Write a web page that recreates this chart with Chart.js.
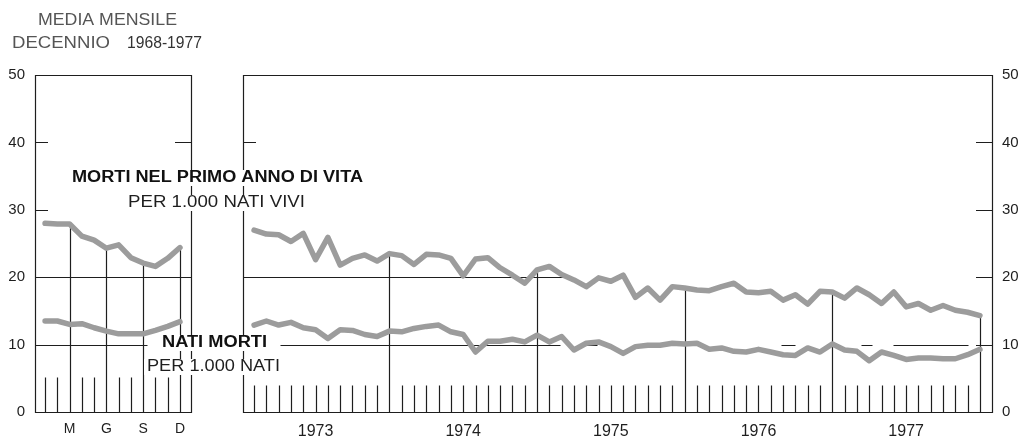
<!DOCTYPE html>
<html lang="it">
<head>
<meta charset="utf-8">
<title>Morti nel primo anno di vita e nati morti</title>
<script src="https://cdn.jsdelivr.net/npm/chart.js@4.4.1/dist/chart.umd.min.js"></script>
<style>
  html, body { margin: 0; padding: 0; background: #fff; }
  #wrap { position: relative; width: 1029px; height: 440px; }
  #wrap canvas { position: absolute; left: 0; top: 0; }
</style>
</head>
<body>
<div id="wrap">
  <canvas id="mediaChart" width="1029" height="440"></canvas>
  <canvas id="serieChart" width="1029" height="440"></canvas>
</div>
<script>
// --- media mensile decennio 1968-1977 (gen..dic) ---
const mesiMedia = ['G', 'F', 'M', 'A', 'M', 'G', 'L', 'A', 'S', 'O', 'N', 'D'];
const mortiPrimoAnnoMedia = [28.0, 27.9, 27.9, 26.1, 25.5, 24.3, 24.8, 22.9, 22.1, 21.6, 22.8, 24.4];
const natiMortiMedia = [13.5, 13.5, 13.0, 13.1, 12.5, 12.0, 11.6, 11.6, 11.6, 12.1, 12.7, 13.4];
const mesiEtichettati = [2, 5, 8, 11];          // M G S D

// --- serie mensile gen 1973 .. dic 1977 ---
const anni = ['1973', '1974', '1975', '1976', '1977'];
const mortiPrimoAnno = [
  27.0, 26.4, 26.3, 25.3, 26.5, 22.6, 25.9, 21.8, 22.8, 23.3, 22.4, 23.5,
  23.2, 21.9, 23.4, 23.3, 22.8, 20.2, 22.7, 22.9, 21.4, 20.3, 19.1, 21.1,
  21.6, 20.4, 19.6, 18.6, 19.9, 19.4, 20.3, 17.0, 18.4, 16.6, 18.6, 18.4,
  18.1, 18.0, 18.6, 19.1, 17.8, 17.7, 17.9, 16.6, 17.4, 16.0, 17.9, 17.8,
  16.9, 18.4, 17.4, 16.1, 17.8, 15.6, 16.1, 15.1, 15.8, 15.1, 14.8, 14.3
];
const natiMorti = [
  12.9, 13.5, 12.9, 13.3, 12.5, 12.2, 10.9, 12.2, 12.1, 11.5, 11.2, 12.0,
  11.9, 12.4, 12.7, 12.9, 11.9, 11.5, 8.9, 10.5, 10.5, 10.8, 10.4, 11.4,
  10.4, 11.2, 9.2, 10.2, 10.4, 9.7, 8.7, 9.7, 9.9, 9.9, 10.2, 10.1,
  10.2, 9.3, 9.5, 9.0, 8.9, 9.3, 8.9, 8.5, 8.4, 9.5, 8.9, 10.1,
  9.2, 9.0, 7.6, 8.9, 8.4, 7.8, 8.0, 8.0, 7.9, 7.9, 8.5, 9.3
];
const posizioniAnni = [5, 17, 29, 41, 53];     // etichetta a metà anno
const fineAnno = [11, 23, 35, 47, 59];
const tickY = [0, 10, 20, 30, 40, 50];

const NERO = '#1e1e1e';
const GRIGIO = '#9c9c9c';
const FONT = "'Liberation Sans', Arial, sans-serif";

// cornice, linee di riferimento, tacche mensili e verticali
const cornice = {
  id: 'cornice',
  beforeDatasetsDraw(chart, args, opt) {
    const { ctx, chartArea: a, scales: { x, y } } = chart;
    const px = v => Math.round(x.getPixelForValue(v)) + 0.5;
    const py = v => Math.round(y.getPixelForValue(v)) + 0.5;
    const serie = chart.data.datasets[0].data;
    ctx.save();
    ctx.strokeStyle = NERO;
    ctx.lineWidth = 1.2;
    ctx.beginPath();
    ctx.rect(Math.round(a.left) + 0.5, Math.round(a.top) + 0.5, Math.round(a.right - a.left), Math.round(a.bottom - a.top));
    opt.riferimenti.forEach(r => {
      ctx.moveTo(px(r.da), py(r.v));
      ctx.lineTo(px(r.a), py(r.v));
    });
    opt.taccheSx.forEach(v => {
      ctx.moveTo(a.left, py(v));
      ctx.lineTo(a.left + 13, py(v));
    });
    opt.taccheDx.forEach(v => {
      ctx.moveTo(a.right, py(v));
      ctx.lineTo(a.right - 16, py(v));
    });
    serie.forEach(p => {
      const cima = opt.verticali.includes(p.x) ? p.y : opt.altezzaTacca;
      ctx.moveTo(px(p.x), py(0));
      ctx.lineTo(px(p.x), py(cima));
    });
    ctx.stroke();
    ctx.restore();
  }
};

function scritta(ctx, testo, x0, x1, yc, font, colore) {
  ctx.font = font;
  const k = (x1 - x0) / ctx.measureText(testo).width;
  ctx.fillStyle = '#fff';
  ctx.fillRect(x0 - 3, yc - 8, x1 - x0 + 6, 16);
  ctx.save();
  ctx.translate(x0, yc);
  ctx.scale(k, 1);
  ctx.fillStyle = colore;
  ctx.textBaseline = 'middle';
  ctx.fillText(testo, 0, 0);
  ctx.restore();
}

const didascalie = {
  id: 'didascalie',
  afterDraw(chart) {
    const ctx = chart.ctx;
    scritta(ctx, 'MEDIA MENSILE', 38, 177, 20, '17px ' + FONT, '#555');
    scritta(ctx, 'DECENNIO', 12, 110, 44, '16px ' + FONT, '#555');
    scritta(ctx, '1968-1977', 127, 202, 44, '16px ' + FONT, '#333');
    scritta(ctx, 'MORTI NEL PRIMO ANNO DI VITA', 72, 363, 178, 'bold 16px ' + FONT, '#111');
    scritta(ctx, 'PER 1.000 NATI VIVI', 128, 305, 203, '16px ' + FONT, NERO);
    scritta(ctx, 'NATI MORTI', 162, 267, 343, 'bold 16px ' + FONT, '#111');
    scritta(ctx, 'PER 1.000 NATI', 147, 280, 367, '16px ' + FONT, NERO);
  }
};

function linea(valori) {
  return {
    data: valori.map((v, i) => ({ x: i, y: v })),
    borderColor: GRIGIO,
    borderWidth: 5.5,
    borderJoinStyle: 'round',
    borderCapStyle: 'round',
    pointRadius: 0,
    tension: 0
  };
}

function assi(xMin, xMax, posTick, etichette, posY, padX) {
  return {
    x: {
      type: 'linear', min: xMin, max: xMax,
      grid: { display: false, drawTicks: false }, border: { display: false },
      afterFit: s => { s.height = 28; },
      afterBuildTicks: s => { s.ticks = posTick.map(v => ({ value: v })); },
      ticks: {
        autoSkip: false, maxRotation: 0, padding: padX, color: NERO,
        font: { family: FONT, size: posY === 'left' ? 14 : 16 },
        callback: v => etichette[posTick.indexOf(v)]
      }
    },
    y: {
      position: posY, min: 0, max: 50,
      grid: { display: false, drawTicks: false }, border: { display: false },
      afterFit: s => { s.width = posY === 'left' ? 35 : 37; },
      afterBuildTicks: s => { s.ticks = tickY.map(v => ({ value: v })); },
      ticks: { padding: 10, color: NERO, font: { family: FONT, size: 15 } }
    }
  };
}

const base = {
  responsive: false,
  animation: false,
  devicePixelRatio: 1,
  plugins: { legend: { display: false }, tooltip: { enabled: false } }
};

new Chart(document.getElementById('mediaChart'), {
  type: 'line',
  data: { datasets: [linea(mortiPrimoAnnoMedia), linea(natiMortiMedia)] },
  options: {
    ...base,
    layout: { padding: { top: 75, right: 838, left: 0, bottom: 0 } },
    scales: assi(-0.82, 11.9, mesiEtichettati, mesiEtichettati.map(i => mesiMedia[i]), 'left', 9),
    plugins: {
      ...base.plugins,
      cornice: {
        riferimenti: [{ v: 20, da: -0.82, a: 11.9 }, { v: 10, da: -0.82, a: 8.3 }],
        taccheSx: [40, 30],
        taccheDx: [40],
        verticali: mesiEtichettati,
        altezzaTacca: 5.2
      }
    }
  },
  plugins: [cornice]
});

new Chart(document.getElementById('serieChart'), {
  type: 'line',
  data: { datasets: [linea(mortiPrimoAnno), linea(natiMorti)] },
  options: {
    ...base,
    layout: { padding: { top: 75, right: 0, left: 243, bottom: 0 } },
    scales: assi(-0.9, 59.98, posizioniAnni, anni, 'right', 10),
    plugins: {
      ...base.plugins,
      cornice: {
        riferimenti: [
          { v: 20, da: -0.9, a: 25.1 },
          { v: 10, da: 2.1, a: 24.9 }, { v: 10, da: 26.3, a: 27.9 },
          { v: 10, da: 31.6, a: 35.6 }, { v: 10, da: 42.8, a: 44 },
          { v: 10, da: 49.3, a: 50.2 }, { v: 10, da: 51.9, a: 58 }
        ],
        taccheSx: [40],
        taccheDx: [40, 30, 20, 10],
        verticali: fineAnno,
        altezzaTacca: 4
      }
    }
  },
  plugins: [cornice, didascalie]
});
</script>
</body>
</html>
